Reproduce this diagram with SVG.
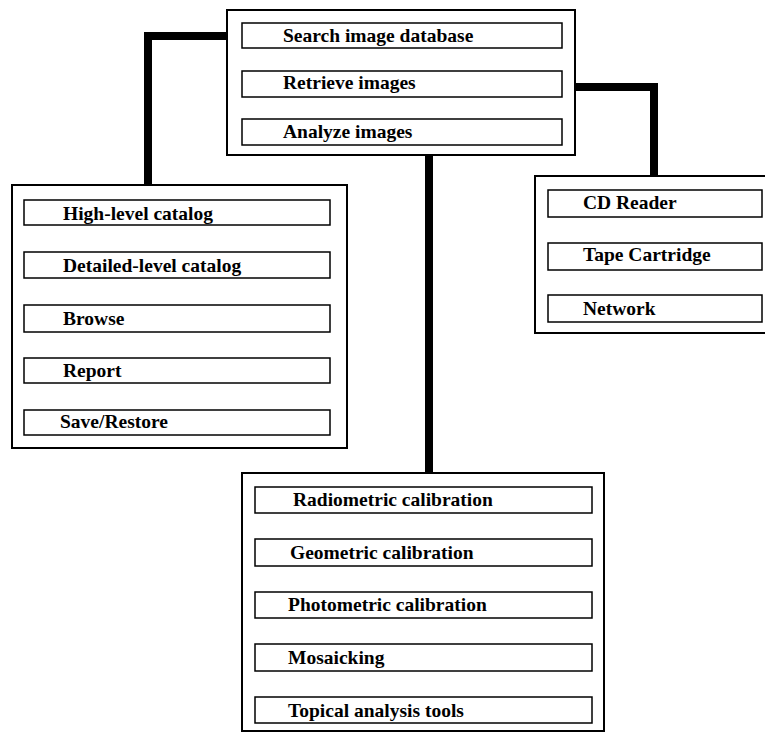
<svg xmlns="http://www.w3.org/2000/svg" width="765" height="732" viewBox="0 0 765 732">
<style>
.outer{fill:#fff;stroke:#000;stroke-width:2}
.inner{fill:#fff;stroke:#000;stroke-width:1.5}
.lbl{font-family:"Liberation Serif","Times New Roman",serif;font-weight:bold;font-size:19.5px;fill:#000}
.conn{fill:none;stroke:#000;stroke-width:8;stroke-linejoin:miter}
</style>
<rect width="765" height="732" fill="#fff"/>
<g id="connectors">
<path class="conn" d="M230,36 H148 V186"/>
<path class="conn" d="M575,87 H654 V176"/>
<path class="conn" d="M429,155 V473"/>
</g>
<g id="main">
<rect class="outer" x="227" y="10" width="348" height="145"/>
<rect class="inner" x="242" y="23" width="320" height="25"/>
<text class="lbl" x="283" y="42">Search image database</text>
<rect class="inner" x="242" y="71" width="320" height="26"/>
<text class="lbl" x="283" y="89">Retrieve images</text>
<rect class="inner" x="242" y="119" width="320" height="26"/>
<text class="lbl" x="283" y="138">Analyze images</text>
</g>
<g id="catalog">
<rect class="outer" x="12" y="185" width="335" height="263"/>
<rect class="inner" x="24" y="200" width="306" height="25"/>
<text class="lbl" x="63" y="220">High-level catalog</text>
<rect class="inner" x="24" y="252" width="306" height="26"/>
<text class="lbl" x="63" y="272">Detailed-level catalog</text>
<rect class="inner" x="24" y="305" width="306" height="27"/>
<text class="lbl" x="63" y="325">Browse</text>
<rect class="inner" x="24" y="358" width="306" height="25"/>
<text class="lbl" x="63" y="377">Report</text>
<rect class="inner" x="24" y="410" width="306" height="25"/>
<text class="lbl" x="60" y="428">Save/Restore</text>
</g>
<g id="media">
<rect class="outer" x="535" y="176" width="240" height="157"/>
<rect class="inner" x="548" y="190" width="214" height="27"/>
<text class="lbl" x="583" y="209">CD Reader</text>
<rect class="inner" x="548" y="243" width="214" height="27"/>
<text class="lbl" x="583" y="261">Tape Cartridge</text>
<rect class="inner" x="548" y="295" width="214" height="27"/>
<text class="lbl" x="583" y="315">Network</text>
</g>
<g id="analysis">
<rect class="outer" x="242" y="473" width="362" height="258"/>
<rect class="inner" x="255" y="487" width="337" height="26"/>
<text class="lbl" x="293" y="506">Radiometric calibration</text>
<rect class="inner" x="255" y="539" width="337" height="27"/>
<text class="lbl" x="290" y="559">Geometric calibration</text>
<rect class="inner" x="255" y="592" width="337" height="26"/>
<text class="lbl" x="288" y="611">Photometric calibration</text>
<rect class="inner" x="255" y="644" width="337" height="27"/>
<text class="lbl" x="288" y="664">Mosaicking</text>
<rect class="inner" x="255" y="697" width="337" height="26"/>
<text class="lbl" x="288" y="717">Topical analysis tools</text>
</g>
</svg>
